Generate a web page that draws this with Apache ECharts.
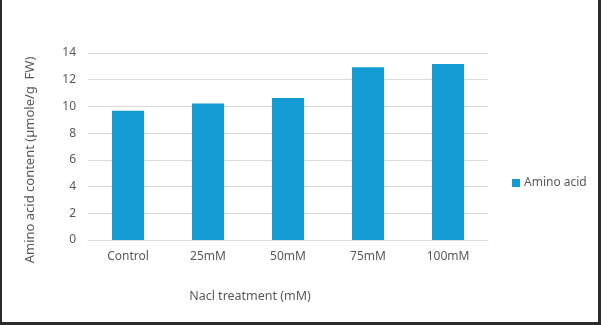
<!DOCTYPE html>
<html>
<head>
<meta charset="utf-8">
<script src="https://cdn.jsdelivr.net/npm/echarts@6/dist/echarts.min.js"></script>
<style>
  body{ margin:0; background:#ffffff; }
  .wrap{ position:relative; width:601px; height:325px; }
  #main{ position:absolute; left:0; top:0; width:601px; height:325px; }
  .frame{
    position:absolute; left:0; top:0; width:601px; height:325px;
    box-sizing:border-box;
    border-left:2px solid #2b2b2b;
    border-right:3px solid #2b2b2b;
    border-bottom:3px solid #2b2b2b;
    pointer-events:none;
  }
</style>
</head>
<body>
<div class="wrap">
  <div id="main"></div>
  <div class="frame"></div>
</div>
<script>
  var categories = ['Control', '25mM', '50mM', '75mM', '100mM'];
  var aminoAcid = [9.68, 10.22, 10.63, 12.93, 13.18];
  var seriesName = 'Amino acid';

  var chart = echarts.init(document.getElementById('main'));
  var txt = '#595959';
  var font = 'Noto Sans';

  chart.setOption({
    animation: false,
    backgroundColor: '#ffffff',
    legend: {
      data: [seriesName],
      orient: 'vertical',
      left: 507,
      top: 172,
      icon: 'rect',
      itemWidth: 8,
      itemHeight: 8,
      itemGap: 4,
      textStyle: { color: txt, fontSize: 12, fontFamily: font, padding: [0, 0, 0, -1] }
    },
    grid: {
      left: 88,
      right: 113,
      top: 53,
      bottom: 85
    },
    xAxis: {
      type: 'category',
      data: categories,
      name: 'Nacl treatment (mM)',
      nameLocation: 'middle',
      nameGap: 50,
      nameTextStyle: { color: txt, fontSize: 12.5, fontFamily: font, padding: [0, 76, 0, 0] },
      axisLine: { lineStyle: { color: '#d9d9d9' } },
      axisTick: { show: false },
      axisLabel: { color: txt, fontSize: 12, fontFamily: font, margin: 11 }
    },
    yAxis: {
      type: 'value',
      min: 0,
      max: 14,
      interval: 2,
      name: 'Amino acid content (µmole/g  FW)',
      nameLocation: 'middle',
      nameGap: 51,
      nameTextStyle: { color: txt, fontSize: 13, fontFamily: font, padding: [0, 27, 0, 0] },
      axisLine: { show: false },
      axisTick: { show: false },
      axisLabel: { color: txt, fontSize: 12, fontFamily: font, margin: 12 },
      splitLine: { lineStyle: { color: '#d9d9d9' } }
    },
    series: [
      {
        name: seriesName,
        type: 'bar',
        data: aminoAcid,
        barWidth: '40%',
        itemStyle: { color: '#159bd3' }
      }
    ]
  });
</script>
</body>
</html>
